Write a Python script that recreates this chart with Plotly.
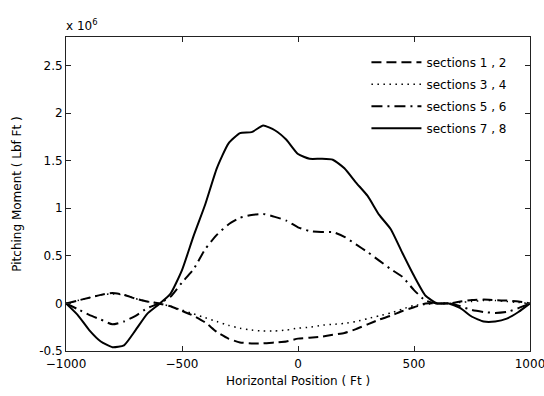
import plotly.graph_objects as go

# Horizontal position along the hull (ft)
position_ft = [-1000, -950, -900, -850, -800, -750, -700, -650, -600, -550,
               -500, -450, -400, -350, -300, -250, -200, -150, -100, -50,
               0, 50, 100, 150, 200, 250, 300, 350, 400, 450,
               500, 550, 600, 650, 700, 750, 800, 850, 900, 950, 1000]

# Pitching moment per section pair (x 10^6 Lbf Ft)
moment_s12 = [0.0, 0.03, 0.06, 0.09, 0.11, 0.09, 0.05, 0.02, 0.0, -0.03,
              -0.08, -0.13, -0.20, -0.30, -0.37, -0.41, -0.42, -0.42, -0.41, -0.40,
              -0.37, -0.36, -0.35, -0.33, -0.31, -0.27, -0.22, -0.17, -0.13, -0.08,
              -0.04, 0.0, 0.0, 0.0, 0.02, 0.035, 0.04, 0.035, 0.03, 0.02, 0.0]

moment_s34 = [0.0, 0.03, 0.06, 0.09, 0.10, 0.09, 0.05, 0.02, 0.0, -0.03,
              -0.07, -0.11, -0.15, -0.19, -0.23, -0.26, -0.28, -0.29, -0.29, -0.28,
              -0.26, -0.25, -0.23, -0.22, -0.21, -0.19, -0.16, -0.13, -0.10, -0.06,
              -0.02, -0.01, 0.0, 0.0, 0.01, 0.02, 0.03, 0.03, 0.02, 0.01, 0.0]

moment_s56 = [0.0, -0.06, -0.12, -0.17, -0.22, -0.19, -0.13, -0.05, 0.0, 0.07,
              0.22, 0.36, 0.57, 0.72, 0.83, 0.90, 0.93, 0.94, 0.91, 0.87,
              0.80, 0.76, 0.75, 0.75, 0.70, 0.62, 0.54, 0.45, 0.36, 0.28,
              0.14, 0.03, 0.0, 0.0, -0.03, -0.07, -0.09, -0.10, -0.09, -0.05, 0.0]

moment_s78 = [0.0, -0.12, -0.28, -0.40, -0.46, -0.44, -0.28, -0.11, -0.01, 0.10,
              0.35, 0.71, 1.04, 1.42, 1.68, 1.79, 1.80, 1.87, 1.82, 1.72,
              1.57, 1.52, 1.52, 1.51, 1.42, 1.27, 1.13, 0.93, 0.78, 0.53,
              0.29, 0.08, 0.0, 0.0, -0.05, -0.14, -0.19, -0.19, -0.16, -0.09, 0.0]

series_names = ["sections 1 , 2", "sections 3 , 4", "sections 5 , 6", "sections 7 , 8"]
x_ticks = [-1000, -500, 0, 500, 1000]
y_ticks = [-0.5, 0, 0.5, 1, 1.5, 2, 2.5]

styles = [
    dict(dash="10px,5px", width=2),
    dict(dash="1.5px,4.5px", width=1.5),
    dict(dash="11px,5px,2px,5px", width=2),
    dict(dash="solid", width=2),
]

fig = go.Figure()
for i, (name, vals, st) in enumerate(zip(series_names,
                                         [moment_s12, moment_s34, moment_s56, moment_s78],
                                         styles)):
    fig.add_trace(go.Scatter(
        x=position_ft, y=vals, mode="lines", name=name, legendgroup=f"g{i}",
        line=dict(color="black", width=st["width"], dash=st["dash"],
                  shape="spline", smoothing=0.5),
    ))

font = dict(family="DejaVu Sans, Arial, sans-serif", size=12, color="black")

axis_common = dict(
    showline=True, linecolor="#222", linewidth=1, mirror="ticks",
    ticks="inside", ticklen=5, tickcolor="#222", tickwidth=1,
    showgrid=False, zeroline=False, tickfont=font, automargin=False,
)

fig.update_layout(
    width=544, height=396,
    margin=dict(l=66, r=14, t=37, b=45),
    paper_bgcolor="white", plot_bgcolor="white",
    font=font,
    xaxis=dict(range=[-1000, 1000], tickvals=x_ticks, ticklabelstandoff=2,
               ticklabeloverflow="allow",
               title=dict(text="Horizontal Position ( Ft )", font=font, standoff=6),
               **axis_common),
    yaxis=dict(range=[-0.5, 2.8], tickvals=y_ticks,
               ticktext=[f"{v:g}" for v in y_ticks],
               title=dict(text="Pitching Moment ( Lbf Ft )", font=font, standoff=14),
               **axis_common),
    legend=dict(x=0.96, y=0.966, xanchor="right", yanchor="top",
                bgcolor="rgba(0,0,0,0)", borderwidth=0, font=font,
                itemwidth=50, traceorder="grouped", tracegroupgap=3),
    showlegend=True,
)

fig.add_annotation(text="x 10<sup>6</sup>", xref="paper", yref="paper",
                   x=0, y=1, xanchor="left", yanchor="bottom",
                   showarrow=False, font=font, yshift=2, xshift=-2)

fig.write_html("out.html")
